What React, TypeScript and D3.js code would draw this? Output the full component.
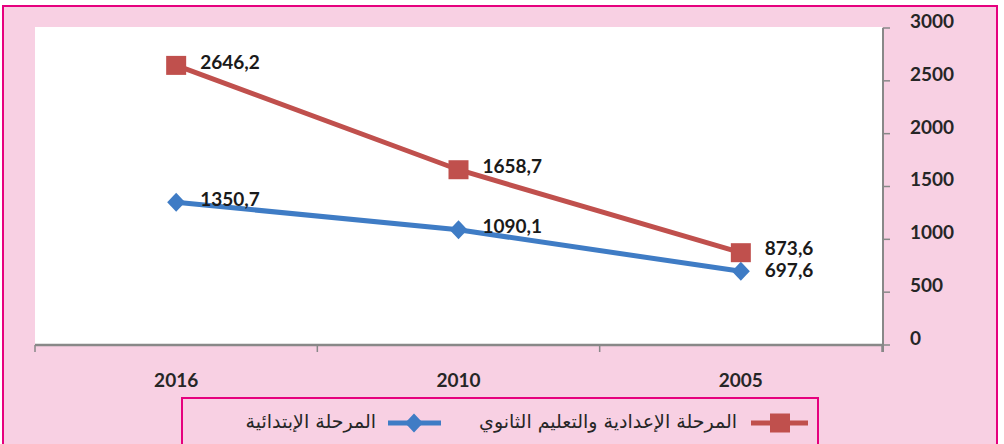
import React from "react";
import * as d3 from "d3";

const categories = ["2016", "2010", "2005"];
const seriesRed = [2646.2, 1658.7, 873.6];
const seriesBlue = [1350.7, 1090.1, 697.6];
const redLabels = ["2646,2", "1658,7", "873,6"];
const blueLabels = ["1350,7", "1090,1", "697,6"];
const yTicks = [0, 500, 1000, 1500, 2000, 2500, 3000];
const legendRed = "المرحلة الإعدادية والتعليم الثانوي";
const legendBlue = "المرحلة الإبتدائية";

const W = 1004, H = 444;
const RED = "#c0504d", BLUE = "#3f7cc5", PINK = "#f8d0e3", BORDER = "#e6007e";
const AXIS = "#888888";
const FONT = "Lato, 'Open Sans', sans-serif";
const AR_FONT = "'DejaVu Sans', 'Noto Sans', sans-serif";

export default function App() {
  const x = d3.scaleBand<string>().domain(categories).range([35, 882]);
  const y = d3.scaleLinear().domain([0, 3000]).range([345, 28]);
  const cx = (c: string) => (x(c) as number) + x.bandwidth() / 2;
  const line = d3.line<number>().x((_, i) => cx(categories[i])).y((v) => y(v));
  const redDy = [-1.5, -1.5, -2.5];
  const blueDy = [-1.5, -1.5, 1];
  return (
    <svg width={W} height={H} style={{ position: "absolute", left: 0, top: 0 }} fontFamily={FONT}>
      <rect x={3} y={6} width={994} height={H} fill={PINK} stroke={BORDER} strokeWidth={2} />
      <rect x={35} y={27} width={847} height={318} fill="#ffffff" />
      {/* x axis */}
      <line x1={35} x2={882} y1={345} y2={345} stroke={AXIS} strokeWidth={2.5} />
      {[35, ...categories.map((c) => (x(c) as number) + x.bandwidth())].map((t, i) => (
        <line key={i} x1={t} x2={t} y1={345} y2={352} stroke={AXIS} strokeWidth={1.5} />
      ))}
      {categories.map((c) => (
        <text key={c} x={cx(c)} y={387} textAnchor="middle" fontSize={19} fontWeight="bold" fill="#262626">{c}</text>
      ))}
      {/* y axis */}
      <line x1={883} x2={883} y1={y(3000)} y2={352} stroke={AXIS} strokeWidth={2} />
      {yTicks.map((t) => (
        <g key={t}>
          <line x1={883} x2={890} y1={y(t)} y2={y(t)} stroke={AXIS} strokeWidth={1.5} />
          <text x={910} y={y(t) - 5} dominantBaseline="middle" fontSize={19} fontWeight="bold" fill="#262626">{t}</text>
        </g>
      ))}
      {/* blue series */}
      <path d={line(seriesBlue) as string} fill="none" stroke={BLUE} strokeWidth={5} />
      {seriesBlue.map((v, i) => {
        const px = cx(categories[i]), py = y(v);
        return <path key={i} d={`M${px},${py - 9.5}L${px + 9},${py}L${px},${py + 9.5}L${px - 9},${py}Z`} fill={BLUE} />;
      })}
      {/* red series */}
      <path d={line(seriesRed) as string} fill="none" stroke={RED} strokeWidth={5} />
      {seriesRed.map((v, i) => {
        const px = cx(categories[i]), py = y(v);
        return <rect key={i} x={px - 10} y={py - 9.5} width={20} height={19} fill={RED} />;
      })}
      {/* data labels */}
      {seriesRed.map((v, i) => (
        <text key={"r" + i} x={cx(categories[i]) + 24} y={y(v) + redDy[i]} dominantBaseline="middle" fontSize={19} fontWeight="bold" fill="#1a1a1a">{redLabels[i]}</text>
      ))}
      {seriesBlue.map((v, i) => (
        <text key={"b" + i} x={cx(categories[i]) + 24} y={y(v) + blueDy[i]} dominantBaseline="middle" fontSize={19} fontWeight="bold" fill="#1a1a1a">{blueLabels[i]}</text>
      ))}
      {/* legend */}
      <rect x={182} y={398} width={636} height={60} fill={PINK} stroke={BORDER} strokeWidth={2} />
      <line x1={751} x2={808} y1={423} y2={423} stroke={RED} strokeWidth={5} />
      <rect x={770} y={413.5} width={20} height={19} fill={RED} />
      <text x={737} y={422} textAnchor="end" dominantBaseline="middle" fontSize={19} fill="#262626" fontFamily={AR_FONT}>{legendRed}</text>
      <line x1={388} x2={441} y1={423} y2={423} stroke={BLUE} strokeWidth={5} />
      <path d="M414,413.5L423,423L414,432.5L405,423Z" fill={BLUE} />
      <text x={376} y={422} textAnchor="end" dominantBaseline="middle" fontSize={19} fill="#262626" fontFamily={AR_FONT}>{legendBlue}</text>
    </svg>
  );
}
